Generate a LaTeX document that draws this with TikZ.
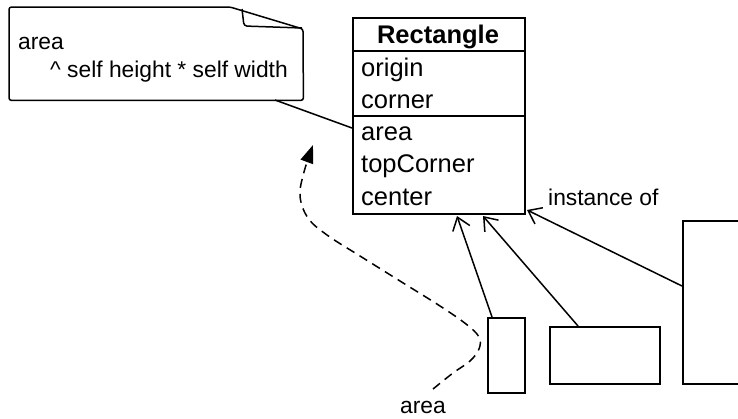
\documentclass[tikz,border=0pt]{standalone}
\usepackage{fontspec}
\setmainfont{Liberation Sans}
\usetikzlibrary{arrows.meta}
\begin{document}
\begin{tikzpicture}[x=1pt,y=-1pt,
  ln/.style={line width=1.5pt},
  boxshape/.style={draw,ln,inner sep=0pt,anchor=north west},
  big/.style={font=\fontsize{25.5}{32}\selectfont,anchor=base west,inner sep=0pt},
  small/.style={font=\fontsize{22.8}{27}\selectfont,anchor=base west,inner sep=0pt},
  inst/.style={ln,-{Straight Barb[length=12pt,width=18pt,line width=1.5pt]}},
  dep/.style={ln,dash pattern=on 9pt off 6pt,-{Triangle[length=18pt,width=13pt]}}]
\useasboundingbox (0,0) rectangle (738,418);
% note
\node[anchor=north west,minimum width=294pt,minimum height=93pt,inner sep=0pt] (note) at (9,7) {};
\draw[ln,rounded corners=2.5pt] (note.north west) -- (230,7) -- (303,29) -- (note.south east) -- (note.south west) -- cycle;
\draw[ln,rounded corners=3pt] (242,9) -- (244,26) -- (302,28);
\node[small] (notea) at (18,49) {area};
\node[small] (noteb) at (50,77) {\textasciicircum\ self height * self width};
% class
\node[boxshape,minimum width=172pt,minimum height=196pt] (cls) at (352,17) {};
\draw[ln] (352,51) -- (524,51);
\draw[ln] (352,116) -- (524,116);
\node[big,anchor=base,font=\fontsize{25.5}{32}\selectfont\bfseries] (title) at (438,43) {Rectangle};
\node[big] (a1) at (361,76) {origin};
\node[big] (a2) at (361,108) {corner};
\node[big] (m1) at (361,140) {area};
\node[big] (m2) at (361,172) {topCorner};
\node[big] (m3) at (361,205) {center};
% note link
\coordinate (nl) at (275,100);
\coordinate (cl) at (352,128);
\draw[ln] (nl) -- (cl);
% instances
\node[boxshape,minimum width=37pt,minimum height=75pt] (r1) at (487,317) {};
\node[boxshape,minimum width=110pt,minimum height=57pt] (r2) at (549,326) {};
\node[boxshape,minimum width=90pt,minimum height=163pt] (r3) at (682,220) {};
\coordinate (s1) at (492,317);
\coordinate (s2) at (578,326);
\coordinate (s3) at (682,286);
\coordinate (t1) at (457,216);
\coordinate (t2) at (483,216);
\coordinate (t3) at (527,210);
\draw[inst] (s1) -- (t1);
\draw[inst] (s2) -- (t2);
\draw[inst] (s3) -- (t3);
\node[small] (lbl) at (548,205) {instance of};
% dashed message
\node[small] (msg) at (400,413) {area};
\coordinate (d0) at (433,389);
\coordinate (dt) at (313,145);
\draw[dep] plot[smooth,tension=0.6] coordinates {(d0) (453,373) (470,361) (479,349) (479,337) (466,324) (440,306) (400,281) (360,256) (327,235) (308,218) (300,196) (304,172) (dt)};
\end{tikzpicture}
\end{document}
